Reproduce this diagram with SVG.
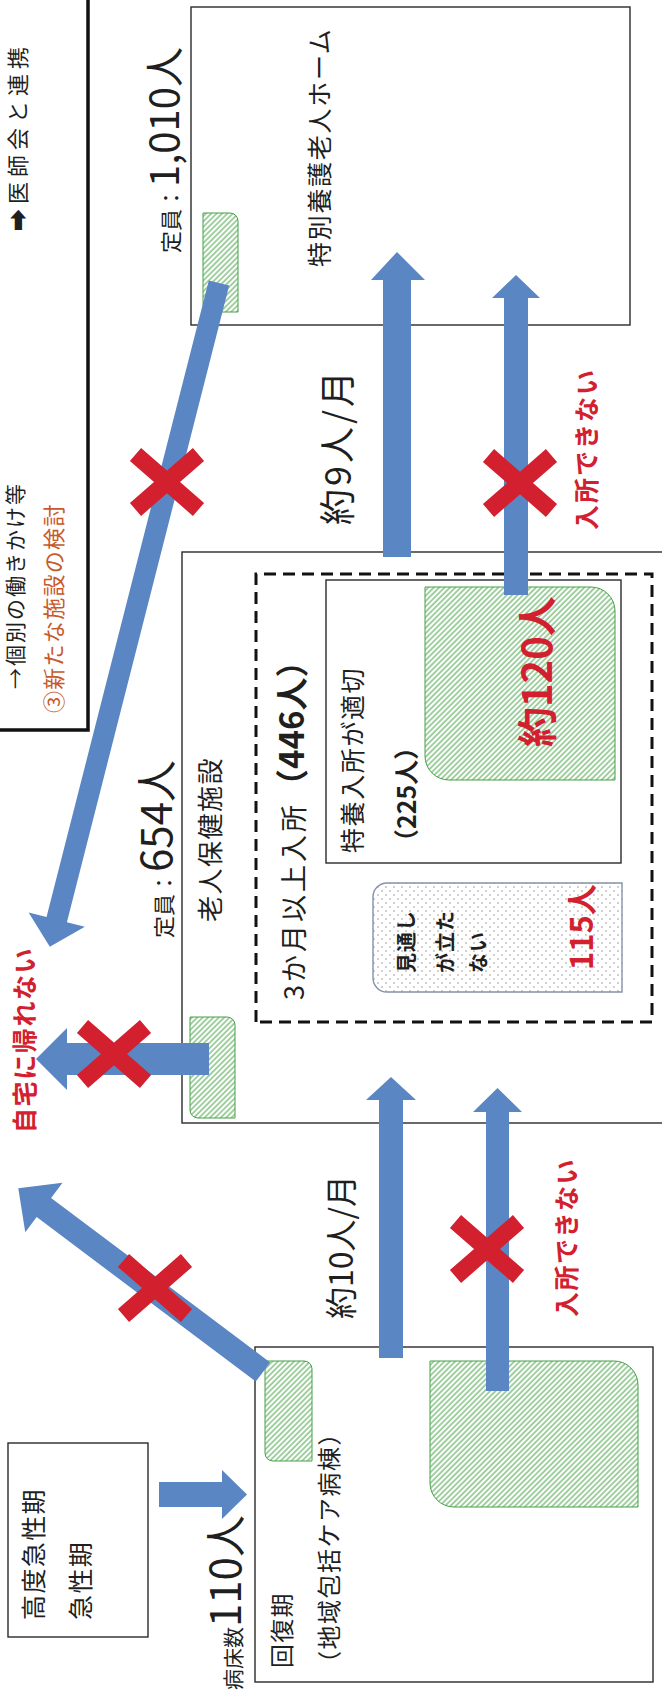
<svg xmlns="http://www.w3.org/2000/svg" width="662" height="1697" viewBox="0 0 662 1697">
<defs>
<style>
text{font-family:"Noto Sans CJK JP","Noto Sans",sans-serif;fill:#1f1f1f}
.box{fill:none;stroke:#2a2a2a;stroke-width:1.4}
.hatch{fill:url(#hatch);stroke:#46a046;stroke-width:1}
.red{fill:#d3202f;font-weight:bold}
.b{font-weight:bold}
.arrow{fill:#5a86c3}
.x{stroke:#d3202f;stroke-width:17;fill:none}
</style>
<pattern id="hatch" width="3.8" height="3.8" patternUnits="userSpaceOnUse" patternTransform="rotate(45)">
<rect width="3.8" height="3.8" fill="#fff"/>
<line x1="0" y1="1" x2="3.8" y2="1" stroke="#58ac58" stroke-width="1.1"/>
</pattern>
<pattern id="dots" width="8" height="8" patternUnits="userSpaceOnUse">
<rect width="8" height="8" fill="#fff"/>
<circle cx="2" cy="2" r="0.75" fill="#8a8a8a"/>
<circle cx="6" cy="6" r="0.75" fill="#8a8a8a"/>
</pattern>
<path id="xm" class="x" d="M-27.5,-31.5L27.5,31.5M-27.5,31.5L27.5,-31.5"/>
</defs>
<rect width="662" height="1697" fill="#fff"/>
<g transform="translate(0 1697) rotate(-90)">

<g id="legend">
<rect x="967" y="-10" width="740" height="98" fill="none" stroke="#111" stroke-width="3.5"/>
<text x="1466" y="26" font-size="22" letter-spacing="5">➡医師会と連携</text>
<text x="1008" y="23" font-size="21" letter-spacing="2">→個別の働きかけ等</text>
<text x="984" y="62" font-size="22" letter-spacing="1.3" style="fill:#c8592a">③新たな施設の検討</text>
</g>

<g id="tokuyou">
<rect class="box" x="1372" y="191" width="318" height="439"/>
<path class="hatch" d="M1393,203H1484V230A8,8 0 0 1 1476,238H1385V211A8,8 0 0 1 1393,203Z"/>
<text x="1444" y="179"><tspan font-size="22">定員：</tspan><tspan font-size="40">1,010人</tspan></text>
<text x="1430" y="329" font-size="25" letter-spacing="1.7">特別養護老人ホーム</text>
</g>

<g id="roken">
<rect class="box" x="574" y="182" width="571" height="500"/>
<path class="hatch" d="M587,190H680V227A8,8 0 0 1 672,235H579V198A8,8 0 0 1 587,190Z"/>
<text x="759" y="172"><tspan font-size="22">定員：</tspan><tspan font-size="42">654人</tspan></text>
<text x="775" y="220" font-size="26" letter-spacing="1.5">老人保健施設</text>
<g id="long-stay">
<rect x="675" y="256" width="448" height="396" fill="none" stroke="#111" stroke-width="3" stroke-dasharray="12 7"/>
<text x="697" y="304" font-size="27" letter-spacing="3">3か月以上入所<tspan class="b" font-size="33" letter-spacing="0">（446人）</tspan></text>
<g id="tokuyou-fit">
<rect class="box" x="834" y="326" width="283" height="295"/>
<path class="hatch" d="M941,425H1110V591A24,24 0 0 1 1086,615H917V449A24,24 0 0 1 941,425Z"/>
<text x="844" y="362" font-size="25" letter-spacing="1.6">特養入所が適切</text>
<text x="843" y="416" font-size="25" class="b">（225人）</text>
<text x="950" y="552" font-size="40" class="red">約120人</text>
</g>
<g id="no-prospect">
<path d="M719,373H800A14,14 0 0 1 814,387V622H705V387A14,14 0 0 1 719,373Z" fill="url(#dots)" stroke="#8393a8" stroke-width="1.4"/>
<text x="724" y="414" font-size="20" letter-spacing="1" class="b">見通し</text>
<text x="724" y="453" font-size="20" letter-spacing="1" class="b">が立た</text>
<text x="724" y="486" font-size="20" letter-spacing="1" class="b">ない</text>
<text x="727" y="593" font-size="31" class="red">115人</text>
</g>
</g>
</g>

<g id="kaifuku">
<rect class="box" x="15" y="255" width="335" height="398"/>
<path class="hatch" d="M244,265H336V304A8,8 0 0 1 328,312H236V273A8,8 0 0 1 244,265Z"/>
<path class="hatch" d="M214,430H336V614A24,24 0 0 1 312,638H190V454A24,24 0 0 1 214,430Z"/>
<text x="29" y="291" font-size="24" letter-spacing="1.3">回復期</text>
<text x="22" y="338" font-size="24" letter-spacing="1.5">（地域包括ケア病棟）</text>
<text x="7" y="241"><tspan font-size="21">病床数</tspan><tspan font-size="42">110人</tspan></text>
</g>

<g id="koudo">
<rect class="box" x="60" y="8" width="194" height="140"/>
<text x="77" y="43" font-size="25" letter-spacing="1.4">高度急性期</text>
<text x="77" y="90" font-size="25" letter-spacing="1.4">急性期</text>
</g>

<g id="labels">
<text x="1172" y="351" font-size="36" letter-spacing="3">約9人/月</text>
<text x="378" y="353" font-size="32">約10人/月</text>
<text x="1167" y="596" font-size="25" letter-spacing="2" class="red">入所できない</text>
<text x="380" y="576" font-size="25" letter-spacing="1.5" class="red">入所できない</text>
<text x="564" y="34" font-size="25" letter-spacing="1.6" class="red">自宅に帰れない</text>
</g>

<g id="connectors">
<polygon class="arrow" points="1140,383 1417,383 1417,371 1445,397 1417,425 1417,411 1140,411"/>
<polygon class="arrow" points="1102,504 1399,504 1399,492 1422,516 1399,540 1399,528 1102,528"/>
<polygon class="arrow" points="339,379 597,379 597,366 620,391 597,416 597,403 339,403"/>
<polygon class="arrow" points="306,486 585,486 585,473 609,497.5 585,522 585,509 306,509"/>
<polygon class="arrow" points="190,159 215,159 215,222 227,222 202.5,247 178,222 190,222"/>
<polygon class="arrow" points="622,209 622,67 607,67 638,36 669,67 654,67 654,209"/>
<polygon class="arrow" transform="translate(325 263) rotate(-53.1)" points="0,-12 274,-12 274,-31 306,0 274,31 274,12 0,12"/>
<polygon class="arrow" transform="translate(1414 219) rotate(-165.7)" points="0,-10.5 657,-10.5 657,-29 685,0 657,29 657,10.5 0,10.5"/>
<use href="#xm" transform="translate(1215 167)"/>
<use href="#xm" transform="translate(1214 520)"/>
<use href="#xm" transform="translate(643 114)"/>
<use href="#xm" transform="translate(409 155)"/>
<use href="#xm" transform="translate(448 487)"/>
</g>
</g>
</svg>
